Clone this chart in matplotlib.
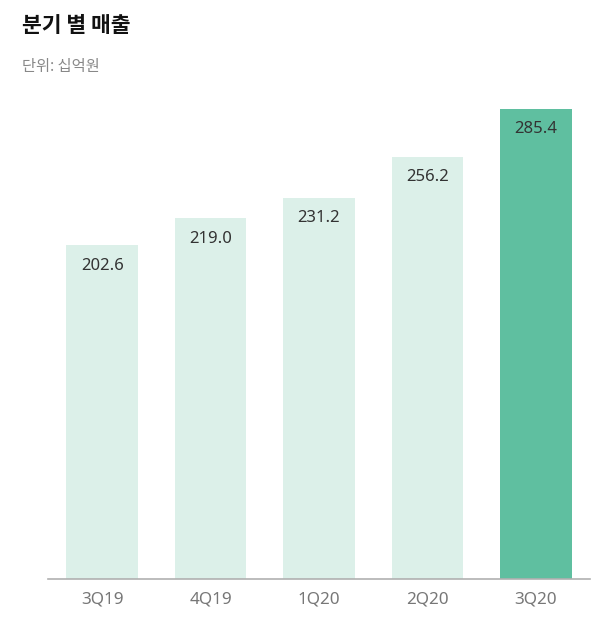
import matplotlib.pyplot as plt

plt.rcParams['font.family'] = ['Noto Sans CJK KR', 'DejaVu Sans']

# data
quarters = ["3Q19", "4Q19", "1Q20", "2Q20", "3Q20"]
sales = [202.6, 219.0, 231.2, 256.2, 285.4]
bar_colors = ["#dcf0e9", "#dcf0e9", "#dcf0e9", "#dcf0e9", "#5fbfa0"]

num_font = ['Noto Sans', 'DejaVu Sans']

fig = plt.figure(figsize=(6, 6.23), dpi=100)
ax = fig.add_axes([0.08, 0.0706, 0.9033, 0.793])

x = range(len(quarters))
bars = ax.bar(x, sales, width=0.66, color=bar_colors)

for rect, val in zip(bars, sales):
    ax.annotate(f"{val:.1f}", (rect.get_x() + rect.get_width() / 2, val),
                xytext=(0, -14.5), textcoords="offset points",
                ha="center", va="center", fontsize=12, color="#333333",
                family=num_font)

ax.set_xlim(-0.5, 4.5)
ax.set_ylim(0, 300)
ax.set_xticks(list(x))
ax.set_xticklabels(quarters, fontsize=12.3, color="#777777", family=num_font)
ax.tick_params(axis="x", length=0, pad=9)
ax.set_yticks([])
for side in ["top", "right", "left"]:
    ax.spines[side].set_visible(False)
ax.spines["bottom"].set_color("#b0b0b0")
ax.spines["bottom"].set_linewidth(1.2)

fig.text(22 / 600, 1 - 25 / 623, "분기 별 매출", fontsize=15.5, fontweight="bold",
         color="#111111", va="center", ha="left")
fig.text(22 / 600, 1 - 66 / 623, "단위: 십억원", fontsize=11, color="#888888",
         va="center", ha="left")

fig.savefig("out.png", dpi=100)
